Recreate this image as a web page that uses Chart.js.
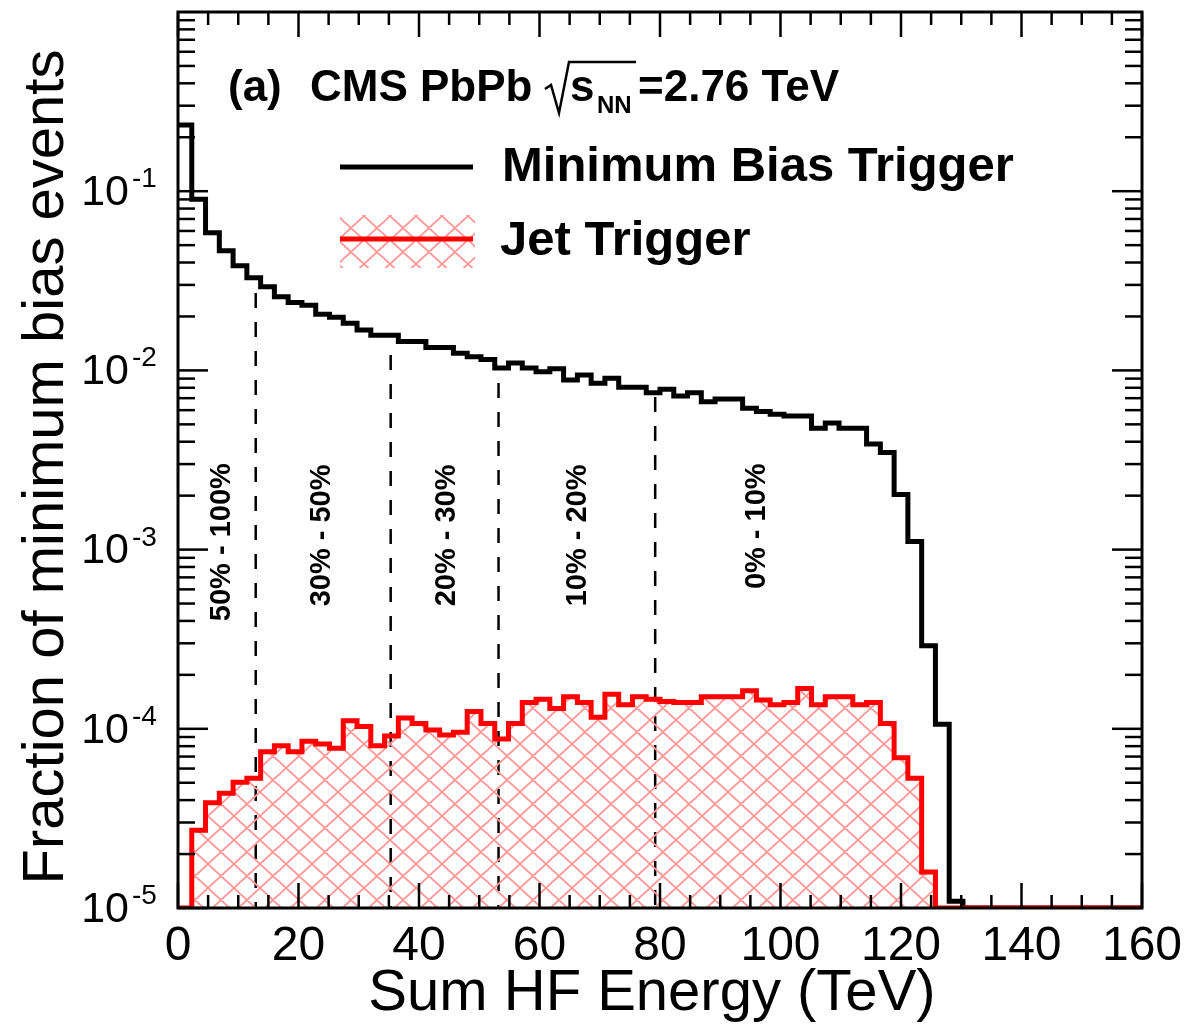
<!DOCTYPE html>
<html lang="en">
<head>
    <meta charset="UTF-8">
    <title>Sum HF Energy</title>
    <script src="https://cdn.jsdelivr.net/npm/chart.js@4.4.1/dist/chart.umd.min.js"></script>
    <style>
        html, body { margin: 0; padding: 0; background: #ffffff; }
        #chart-box { width: 1184px; height: 1033px; }
    </style>
</head>
<body>
    <div id="chart-box"><canvas id="hf-chart" width="1184" height="1033"></canvas></div>
    <script>
    // Dải trục và số bin
    const xRange = [0, 160];
    const yRange = [1e-5, 1];
    const binCount = 70;
    const binWidth = (xRange[1] - xRange[0]) / binCount;

    // Minimum Bias Trigger: giá trị mỗi bin (0 = không có sự kiện)
    const minBiasValues = [
        0.234, 0.0902, 0.0587, 0.0466, 0.0384, 0.0329, 0.0293, 0.0258, 0.0239, 0.0231,
        0.0206, 0.0198, 0.0183, 0.0168, 0.0157, 0.0157, 0.0145, 0.0145, 0.0134, 0.0134,
        0.01245, 0.0119, 0.0115, 0.0103, 0.0110, 0.0103, 0.00984, 0.0102, 0.00884, 0.00943,
        0.00847, 0.00903, 0.00805, 0.00805, 0.00751, 0.00785, 0.00720, 0.00751, 0.00669, 0.00692,
        0.00692, 0.00615, 0.00589, 0.00569, 0.00557, 0.00557, 0.00475, 0.00508, 0.00475, 0.00475,
        0.00389, 0.00348, 0.00203, 0.00111, 0.000291, 0.000106, 0.0000109, 0, 0, 0,
        0, 0, 0, 0, 0, 0, 0, 0, 0, 0
    ];

    // Jet Trigger
    const jetValues = [
        0, 2.72e-5, 3.87e-5, 4.37e-5, 5.03e-5, 5.29e-5, 7.45e-5, 8.05e-5, 7.45e-5, 8.51e-5,
        8.23e-5, 7.78e-5, 1.11e-4, 1.03e-4, 8.05e-5, 9.12e-5, 1.15e-4, 1.07e-4, 9.85e-5, 9.23e-5,
        9.56e-5, 1.25e-4, 1.07e-4, 8.77e-5, 1.07e-4, 1.40e-4, 1.46e-4, 1.30e-4, 1.51e-4, 1.40e-4,
        1.16e-4, 1.56e-4, 1.36e-4, 1.51e-4, 1.46e-4, 1.42e-4, 1.40e-4, 1.40e-4, 1.51e-4, 1.51e-4,
        1.51e-4, 1.63e-4, 1.45e-4, 1.36e-4, 1.40e-4, 1.68e-4, 1.36e-4, 1.51e-4, 1.51e-4, 1.36e-4,
        1.40e-4, 1.07e-4, 6.90e-5, 5.29e-5, 1.59e-5, 0, 0, 0, 0, 0,
        0, 0, 0, 0, 0, 0, 0, 0, 0, 0
    ];

    // Ranh giới centrality (TeV) và điểm trên cùng của đường đứt nét
    const centralityCuts = [12.9, 35.3, 53.2, 79.2];
    const cutTopValues = [0.027, 0.0122, 0.0085, 0.0071];

    // Nhãn centrality
    const centralityLabels = ['50% - 100%', '30% - 50%', '20% - 30%', '10% - 20%', '0% - 10%'];
    const centralityLabelX = [7.3, 23.9, 44.6, 66.4, 96.1];
    const centralityLabelY = [1.1e-3, 1.2e-3, 1.2e-3, 1.2e-3, 1.35e-3];

    // Nhãn trục
    const xTickValues = [0, 20, 40, 60, 80, 100, 120, 140, 160];
    const yTickExponents = [-5, -4, -3, -2, -1];

    const FONT = '"Liberation Sans", Arial, Helvetica, sans-serif';

    // Chuyển giá trị bin thành điểm cho đường bậc thang
    function toHistPoints(values) {
        const points = values.map((v, i) => ({
            x: xRange[0] + i * binWidth,
            y: v > 0 ? v : yRange[0]
        }));
        points.push({ x: xRange[1], y: points[points.length - 1].y });
        return points;
    }

    // Tạo mẫu gạch chéo màu hồng
    function makeHatch() {
        const tile = document.createElement('canvas');
        const w = 26, h = 24;
        tile.width = w;
        tile.height = h;
        const g = tile.getContext('2d');
        g.strokeStyle = '#ff9999';
        g.lineWidth = 1.9;
        g.beginPath();
        for (let dx = -w; dx <= w; dx += w) {
            for (let dy = -h; dy <= h; dy += h) {
                g.moveTo(dx, dy);
                g.lineTo(dx + w, dy + h);
                g.moveTo(dx + w, dy);
                g.lineTo(dx, dy + h);
            }
        }
        g.stroke();
        return g.createPattern(tile, 'repeat');
    }

    const canvas = document.getElementById('hf-chart');
    const hatch = makeHatch();

    function drawLine(ctx, x1, y1, x2, y2) {
        ctx.beginPath();
        ctx.moveTo(x1, y1);
        ctx.lineTo(x2, y2);
        ctx.stroke();
    }

    // Khung, vạch chia, chữ kiểu ROOT
    const rootStyle = {
        id: 'rootStyle',
        afterDatasetsDraw(chart) {
            const { ctx, chartArea: a, scales: { x, y } } = chart;
            ctx.save();
            ctx.strokeStyle = '#000000';
            ctx.fillStyle = '#000000';
            ctx.lineCap = 'butt';

            // Vạch chia trục x (trong khung, trên và dưới)
            ctx.lineWidth = 2.5;
            for (let v = xRange[0]; v <= xRange[1]; v += 5) {
                const px = x.getPixelForValue(v);
                const len = v % 20 === 0 ? 25 : 13;
                drawLine(ctx, px, a.bottom, px, a.bottom - len);
                drawLine(ctx, px, a.top, px, a.top + len);
            }

            // Vạch chia trục y (trái và phải)
            for (let e = -5; e < 0; e++) {
                for (let m = 1; m <= 9; m++) {
                    const py = y.getPixelForValue(m * Math.pow(10, e));
                    const len = m === 1 ? 30 : 17;
                    drawLine(ctx, a.left, py, a.left + len, py);
                    drawLine(ctx, a.right, py, a.right - len, py);
                }
            }

            // Khung
            ctx.lineWidth = 3;
            ctx.strokeRect(a.left, a.top, a.right - a.left, a.bottom - a.top);

            // Nhãn trục x
            ctx.font = `48px ${FONT}`;
            ctx.textAlign = 'center';
            ctx.textBaseline = 'alphabetic';
            xTickValues.forEach(v => {
                ctx.fillText(String(v), x.getPixelForValue(v), 960);
            });

            // Nhãn trục y dạng 10^n
            yTickExponents.forEach(e => {
                const py = y.getPixelForValue(Math.pow(10, e));
                ctx.font = `43px ${FONT}`;
                ctx.textAlign = 'right';
                ctx.textBaseline = 'middle';
                ctx.fillText('10', 129, py + 2);
                ctx.font = `28px ${FONT}`;
                ctx.textAlign = 'left';
                ctx.textBaseline = 'alphabetic';
                ctx.fillText(String(e), 132, py - 4);
            });

            // Tiêu đề trục
            ctx.font = `58px ${FONT}`;
            ctx.textAlign = 'center';
            ctx.textBaseline = 'alphabetic';
            ctx.fillText('Sum HF Energy (TeV)', 652, 1010);
            ctx.save();
            ctx.translate(63, 467);
            ctx.rotate(-Math.PI / 2);
            ctx.fillText('Fraction of minimum bias events', 0, 0);
            ctx.restore();

            // Nhãn centrality (xoay dọc)
            ctx.font = `bold 29px ${FONT}`;
            ctx.textAlign = 'center';
            ctx.textBaseline = 'middle';
            centralityLabels.forEach((label, i) => {
                ctx.save();
                ctx.translate(x.getPixelForValue(centralityLabelX[i]), y.getPixelForValue(centralityLabelY[i]));
                ctx.rotate(-Math.PI / 2);
                ctx.fillText(label, 0, 0);
                ctx.restore();
            });

            // Chú thích
            ctx.fillStyle = hatch;
            ctx.fillRect(340, 215, 135, 53);
            ctx.lineWidth = 5;
            ctx.strokeStyle = '#000000';
            drawLine(ctx, 340, 167, 473, 167);
            ctx.strokeStyle = '#ff0000';
            drawLine(ctx, 340, 239, 473, 239);
            ctx.fillStyle = '#000000';
            ctx.font = `bold 49px ${FONT}`;
            ctx.textAlign = 'left';
            ctx.textBaseline = 'middle';
            ctx.fillText('Minimum Bias Trigger', 502, 167);
            ctx.fillText('Jet Trigger', 500, 241);

            // Tiêu đề (a) CMS PbPb sqrt(sNN)=2.76 TeV
            ctx.textBaseline = 'alphabetic';
            ctx.font = `bold 44px ${FONT}`;
            ctx.fillText('(a)', 228, 101);
            ctx.fillText('CMS PbPb', 310, 101);
            ctx.strokeStyle = '#000000';
            ctx.lineWidth = 2.5;
            ctx.beginPath();
            ctx.moveTo(545, 89);
            ctx.lineTo(551, 85);
            ctx.lineTo(559, 113);
            ctx.lineTo(569, 62);
            ctx.lineTo(636, 62);
            ctx.stroke();
            ctx.fillText('s', 570, 101);
            ctx.font = `bold 24px ${FONT}`;
            ctx.fillText('NN', 597, 113);
            ctx.font = `bold 44px ${FONT}`;
            ctx.fillText('=2.76 TeV', 638, 101);

            ctx.restore();
        }
    };

    // Đường đứt nét tại ranh giới centrality
    const cutDatasets = centralityCuts.map((c, i) => ({
        label: 'cut ' + i,
        data: [{ x: c, y: cutTopValues[i] }, { x: c, y: yRange[0] }],
        borderColor: '#000000',
        borderWidth: 2.5,
        borderDash: [15, 14],
        pointRadius: 0,
        fill: false
    }));

    const hfChart = new Chart(canvas, {
        type: 'line',
        data: {
            datasets: [
                {
                    label: 'Jet Trigger',
                    data: toHistPoints(jetValues),
                    stepped: true,
                    borderColor: '#ff0000',
                    borderWidth: 5,
                    backgroundColor: hatch,
                    fill: 'start',
                    pointRadius: 0
                },
                {
                    label: 'Minimum Bias Trigger',
                    data: toHistPoints(minBiasValues),
                    stepped: true,
                    borderColor: '#000000',
                    borderWidth: 5,
                    fill: false,
                    pointRadius: 0
                },
                ...cutDatasets
            ]
        },
        options: {
            responsive: false,
            animation: false,
            events: [],
            layout: { padding: { left: 178, right: 42, top: 12, bottom: 125 } },
            scales: {
                x: { type: 'linear', min: xRange[0], max: xRange[1], display: false },
                y: { type: 'logarithmic', min: yRange[0], max: yRange[1], display: false }
            },
            plugins: {
                legend: { display: false },
                tooltip: { enabled: false }
            }
        },
        plugins: [rootStyle]
    });
    </script>
</body>
</html>
